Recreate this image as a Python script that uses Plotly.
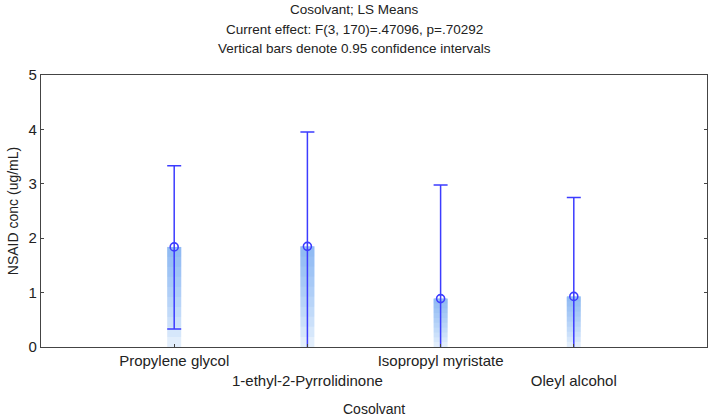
import plotly.graph_objects as go

# LS means and 95% CI bounds
cosolvents = ["Propylene glycol", "1-ethyl-2-Pyrrolidinone", "Isopropyl myristate", "Oleyl alcohol"]
positions = [1, 2, 3, 4]
means = [1.84, 1.85, 0.89, 0.93]
upper = [3.33, 3.95, 2.98, 2.75]
lower = [0.33, -0.25, -1.20, -0.89]

title_lines = [
    "Cosolvant; LS Means",
    "Current effect: F(3, 170)=.47096, p=.70292",
    "Vertical bars denote 0.95 confidence intervals",
]

# staggered tick labels, every second one dropped a line
tick_labels = [("<br>" if i % 2 else "") + name for i, name in enumerate(cosolvents)]

err_plus = [u - m for u, m in zip(upper, means)]
err_minus = [m - lo for m, lo in zip(means, lower)]

BLUE = "#3c3cff"
TEXT = "#222"
FONT = "Liberation Sans, Arial, sans-serif"

fig = go.Figure()

# mean bars: stacked translucent layers give a light-bottom / darker-top gradient
n_layers = 10
for k in range(n_layers):
    frac = k / n_layers
    alpha = 0.15 if k == 0 else 0.068
    fig.add_trace(go.Bar(
        x=positions,
        y=[m * (1 - frac) for m in means],
        base=[m * frac for m in means],
        width=0.105,
        marker=dict(color=f"rgba(60,140,235,{alpha})", line=dict(width=0)),
        hoverinfo="skip",
        showlegend=False,
    ))

# means with confidence intervals
fig.add_trace(go.Scatter(
    x=positions, y=means,
    mode="markers",
    marker=dict(symbol="circle-open", size=8, color=BLUE, line=dict(width=1.6)),
    error_y=dict(type="data", symmetric=False, array=err_plus, arrayminus=err_minus,
                 color=BLUE, thickness=1.5, width=7),
    showlegend=False,
))

# three title lines, centred on the whole page rather than the plot area
page_centre_shift = (709 / 2) - (41 + (709 - 41 - 2) / 2)
title_shifts = [66, 46, 27]
annotations = [
    dict(text=line, x=0.5, y=1, xref="paper", yref="paper",
         xanchor="center", yanchor="middle", xshift=page_centre_shift, yshift=shift,
         showarrow=False, font=dict(size=13.5, family=FONT, color=TEXT))
    for line, shift in zip(title_lines, title_shifts)
]
# x axis title
annotations.append(dict(
    text="Cosolvant", x=0.5, y=0, xref="paper", yref="paper",
    xanchor="center", yanchor="middle", yshift=-62, showarrow=False,
    font=dict(size=14, family=FONT, color=TEXT),
))

fig.update_layout(
    width=709, height=420,
    margin=dict(l=41, r=2, t=75, b=73),
    paper_bgcolor="white",
    plot_bgcolor="white",
    font=dict(family=FONT, size=13, color=TEXT),
    barmode="overlay",
    annotations=annotations,
)
fig.update_xaxes(
    range=[0, 5],
    tickvals=positions, ticktext=tick_labels, tickangle=0, automargin=False,
    ticks="inside", ticklen=3, tickcolor="#444",
    showline=True, linecolor="#444", linewidth=1.2, mirror=True,
    showgrid=False, zeroline=False,
    tickfont=dict(size=15, family=FONT, color=TEXT),
)
fig.update_yaxes(
    range=[0, 5], dtick=1, automargin=False,
    ticks="inside", ticklen=3, tickcolor="#444",
    showline=True, linecolor="#444", linewidth=1.2, mirror="ticks",
    showgrid=False, zeroline=False,
    tickfont=dict(size=15, family=FONT, color=TEXT),
    title=dict(text="NSAID conc (ug/mL)", font=dict(size=14, family=FONT, color=TEXT), standoff=6),
)

# the page body has a default 8px margin; drop it so the figure fills the window
fig.write_html("out.html", config={"displayModeBar": False},
               post_script="document.body.style.margin='0px';")
